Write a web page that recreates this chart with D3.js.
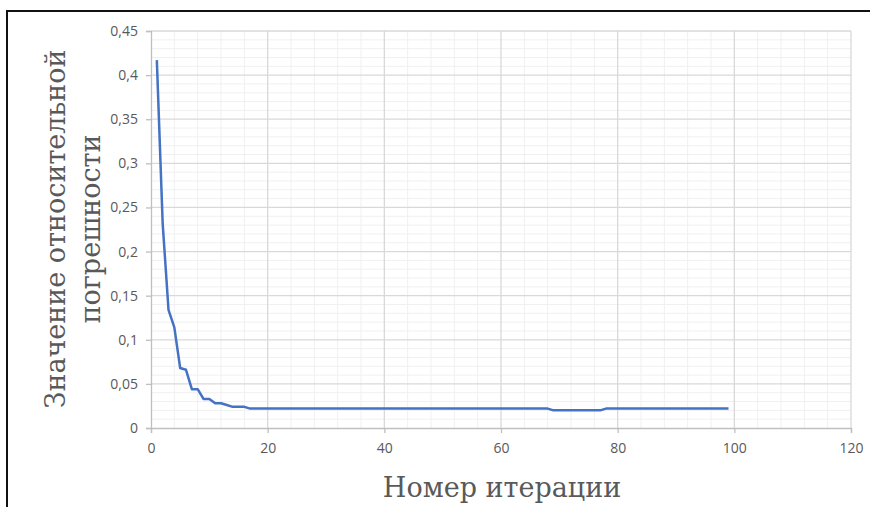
<!DOCTYPE html>
<html><head><meta charset="utf-8">
<script src="https://cdn.jsdelivr.net/npm/d3@7"></script>
<style>body{margin:0;background:#fff}svg{display:block}</style>
</head><body>
<script>
const iterations = d3.range(1, 100);
const errorValues = [
  0.417, 0.232, 0.134, 0.114, 0.068, 0.066, 0.044, 0.044, 0.033, 0.033,
  0.028, 0.028, 0.026, 0.024, 0.024, 0.024, 0.022, 0.022, 0.022, 0.022,
  0.022, 0.022, 0.022, 0.022, 0.022, 0.022, 0.022, 0.022, 0.022, 0.022,
  0.022, 0.022, 0.022, 0.022, 0.022, 0.022, 0.022, 0.022, 0.022, 0.022,
  0.022, 0.022, 0.022, 0.022, 0.022, 0.022, 0.022, 0.022, 0.022, 0.022,
  0.022, 0.022, 0.022, 0.022, 0.022, 0.022, 0.022, 0.022, 0.022, 0.022,
  0.022, 0.022, 0.022, 0.022, 0.022, 0.022, 0.022, 0.022, 0.020, 0.020,
  0.020, 0.020, 0.020, 0.020, 0.020, 0.020, 0.020, 0.022, 0.022, 0.022,
  0.022, 0.022, 0.022, 0.022, 0.022, 0.022, 0.022, 0.022, 0.022, 0.022,
  0.022, 0.022, 0.022, 0.022, 0.022, 0.022, 0.022, 0.022, 0.022
];
const xTicks = [0, 20, 40, 60, 80, 100, 120];
const yTicks = [0, 0.05, 0.1, 0.15, 0.2, 0.25, 0.3, 0.35, 0.4, 0.45];
const xTitle = "Номер итерации";
const yTitleLines = ["Значение относительной", "погрешности"];

const W = 870, H = 507;
const svg = d3.select("body").append("svg").attr("width", W).attr("height", H);

// outer frame
svg.append("rect").attr("x", 7).attr("y", 11).attr("width", W + 20).attr("height", H + 20)
  .attr("fill", "none").attr("stroke", "#111").attr("stroke-width", 2);

const x = d3.scaleLinear().domain([0, 120]).range([151, 851]);
const y = d3.scaleLinear().domain([0, 0.45]).range([428, 31]);

// minor grid
const g = svg.append("g");
g.selectAll(".vminor").data(d3.range(4, 120, 4).filter(v => v % 20 !== 0)).join("line")
  .attr("x1", d => x(d)).attr("x2", d => x(d)).attr("y1", y(0)).attr("y2", y(0.45))
  .attr("stroke", "#f0f0f0").attr("stroke-width", 1);
g.selectAll(".hminor").data(d3.range(1, 45).map(v => v / 100).filter((v, i) => (i + 1) % 5 !== 0)).join("line")
  .attr("x1", x(0)).attr("x2", x(120)).attr("y1", d => y(d)).attr("y2", d => y(d))
  .attr("stroke", "#f0f0f0").attr("stroke-width", 1);
// major grid
g.selectAll(".vmajor").data(xTicks.slice(1)).join("line")
  .attr("x1", d => x(d)).attr("x2", d => x(d)).attr("y1", y(0)).attr("y2", y(0.45))
  .attr("stroke", "#d9d9d9").attr("stroke-width", 1.3);
g.selectAll(".hmajor").data(yTicks.slice(1)).join("line")
  .attr("x1", x(0)).attr("x2", x(120)).attr("y1", d => y(d)).attr("y2", d => y(d))
  .attr("stroke", "#d9d9d9").attr("stroke-width", 1.3);

const fmt = d => String(d).replace(".", ",");
const xAxis = svg.append("g").attr("transform", `translate(0,${y(0)})`)
  .call(d3.axisBottom(x).tickValues(xTicks).tickSize(5).tickPadding(10).tickFormat(fmt));
const yAxis = svg.append("g").attr("transform", `translate(${x(0)},0)`)
  .call(d3.axisLeft(y).tickValues(yTicks).tickSize(5).tickPadding(8).tickFormat(fmt));
[xAxis, yAxis].forEach(a => {
  a.select(".domain").attr("stroke", "#bfbfbf").attr("stroke-width", 1.3);
  a.selectAll(".tick line").attr("stroke", "#bfbfbf").attr("stroke-width", 1.3);
  a.selectAll("text").attr("fill", "#595959").style("font-family", "'Open Sans', 'Liberation Sans', sans-serif").style("font-size", "14px");
});

// line
const line = d3.line().x((d, i) => x(iterations[i])).y(d => y(d));
svg.append("path").datum(errorValues).attr("d", line)
  .attr("fill", "none").attr("stroke", "#4472C4").attr("stroke-width", 2.5).attr("stroke-linejoin", "round");

// titles
svg.append("text").attr("x", 502).attr("y", 497).attr("text-anchor", "middle")
  .attr("fill", "#595959").style("font-family", "'DejaVu Serif', 'Liberation Serif', serif").style("font-size", "27px")
  .text(xTitle);
const yt = svg.append("text").attr("transform", "translate(0,229) rotate(-90)")
  .attr("text-anchor", "middle").attr("fill", "#595959")
  .style("font-family", "'DejaVu Serif', 'Liberation Serif', serif").style("font-size", "27px");
yt.selectAll("tspan").data(yTitleLines).join("tspan")
  .attr("x", 0).attr("y", (d, i) => 65 + i * 35).text(d => d);
</script>
</body></html>
